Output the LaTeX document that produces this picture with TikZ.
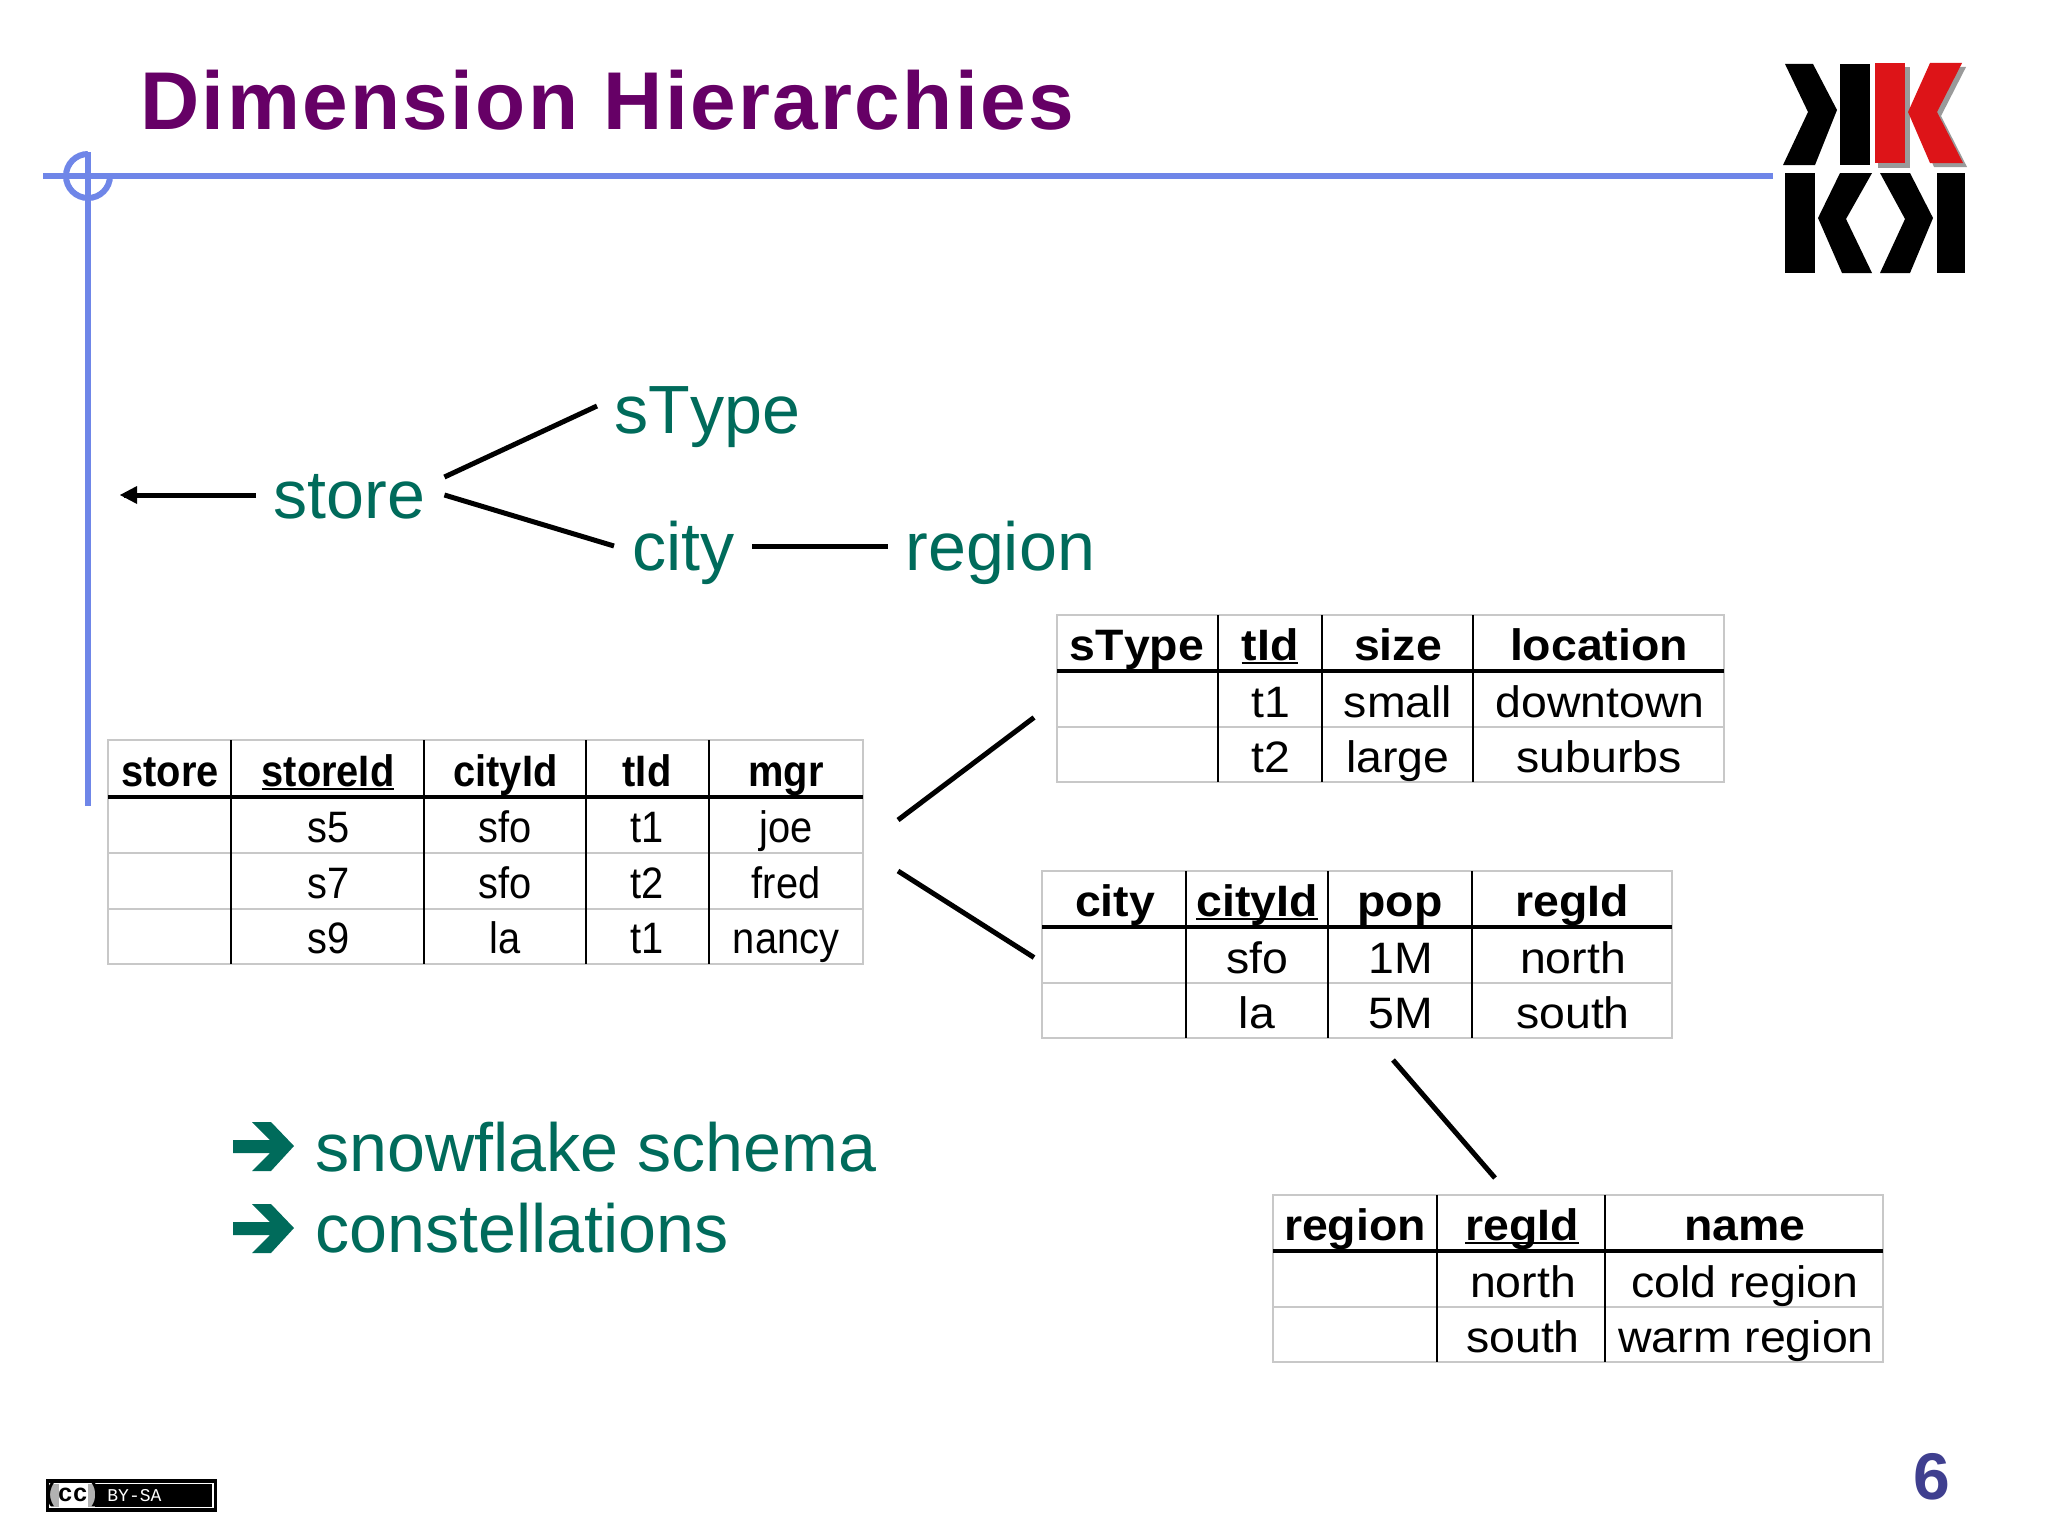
\documentclass[tikz,border=0pt]{standalone}
\usepackage{fontspec}
\usepackage{graphicx}
\setmainfont[Kerning=Off]{Liberation Sans}
\newfontfamily\titlefont[Kerning=Off,LetterSpace=2.9]{Liberation Sans}
\newfontfamily\ccmono{Liberation Mono}
\usetikzlibrary{calc,fit,arrows.meta}
\definecolor{teal1}{HTML}{006B5B}
\definecolor{purp}{HTML}{660066}
\definecolor{slideblue}{HTML}{6F86E8}
\definecolor{numblue}{HTML}{3F3F8F}
\definecolor{grid}{HTML}{C8C8C8}
\definecolor{logored}{HTML}{DD1418}
\definecolor{logoshadow}{HTML}{9A9A9A}
\newcommand\ulbf[1]{\setbox0\hbox{#1}\rlap{\rule[-0.1em]{\wd0}{0.055em}}\box0}
\newcommand\cellnarrow[1]{\scalebox{.905}[1]{#1}}
\newcommand\cellwide[1]{\scalebox{1.055}[1]{#1}}
\tikzset{
  big/.style={font=\fontsize{34.1}{40}\selectfont, text=teal1, inner sep=0pt, anchor=base west},
  cellbase/.style={font=\fontsize{22}{26}\selectfont, text=black, inner sep=0pt, anchor=base},
  headbase/.style={cellbase, font=\fontsize{22}{26}\selectfont\bfseries},
  tablebox/.style={draw=grid, line width=1pt, inner sep=0pt},
  rowline/.style={draw=grid, line width=1pt},
  colline/.style={draw=black, line width=1pt},
  headline/.style={draw=black, line width=1.7pt},
  link/.style={draw=black, line width=2.5pt},
  rule/.style={draw=slideblue, line width=3pt},
  tealarrow/.style={fill=teal1, draw=none},
}
\begin{document}
\begin{tikzpicture}[x=0.5pt,y=-0.5pt]
\path[use as bounding box, fill=white] (0,0) rectangle (2048,1536);

% slide frame
\draw[rule] (43,176) -- (1773,176);
\draw[rule] (88,152) -- (88,806);
\draw[rule] (88,154) arc[start angle=-90, end angle=-360, radius=22];

% title
\node[inner sep=0pt, anchor=base west, text=purp, font=\titlefont\fontsize{41}{50}\selectfont\bfseries] (title) at (140,129) {Dimension Hierarchies};

% logo
\fill[logoshadow] (1878,67) rectangle (1910,168);
\fill[logoshadow] (1934,67) -- (1966,67) -- (1941,116) -- (1967,167) -- (1934,167) -- (1912,116) -- cycle;
\fill[black] (1785,64) -- (1813,64) -- (1837,110) -- (1815,165) -- (1783,165) -- (1808,112) -- cycle;
\fill[black] (1840,64) rectangle (1870,165);
\fill[logored] (1875,63) rectangle (1905,163);
\fill[logored] (1930,63) -- (1962,63) -- (1937,112) -- (1963,163) -- (1930,163) -- (1908,112) -- cycle;
\fill[black] (1785,173) rectangle (1815,273);
\fill[black] (1840,173) -- (1872,173) -- (1846,219) -- (1872,273) -- (1842,273) -- (1818,218) -- cycle;
\fill[black] (1880,173) -- (1910,173) -- (1933,218) -- (1910,273) -- (1880,273) -- (1905,219) -- cycle;
\fill[black] (1937,173) rectangle (1965,273);

% hierarchy
\node[big] (store) at (273,518) {store};
\node[big] (sType) at (614,433) {sType};
\node[big] (city) at (632,570) {city};
\node[big] (region) at (905,570) {region};
\coordinate (leftEnd) at (124,495);
\draw[link] ($(store.base west)+(-17,-23)$) -- (leftEnd);
\fill[black] (120,495) -- (137,486) -- (137,504) -- cycle;
\draw[link] ($(store.base east)+(19,-41)$) -- ($(sType.base west)+(-17,-27)$);
\draw[link] ($(store.base east)+(19,-23)$) -- ($(city.base west)+(-18,-24)$);
\draw[link] ($(city.base east)+(17,-24)$) -- ($(region.base west)+(-17,-24)$);

% store table
\node[tablebox, fit={(108,740)(863,964)}] (storeT) {};
\draw[rowline] (108,853) -- (863,853) (108,909) -- (863,909);
\draw[colline] (231,740) -- (231,964) (424,740) -- (424,964) (586,740) -- (586,964) (709,740) -- (709,964);
\draw[headline] (108,797) -- (863,797);
\node[headbase] (s00) at (170,786) {\cellnarrow{store}};
\node[headbase] (s01) at (328,786) {\cellnarrow{\ulbf{storeId}}};
\node[headbase] (s02) at (505.5,786) {\cellnarrow{cityId}};
\node[headbase] (s03) at (647,786) {\cellnarrow{tId}};
\node[headbase] (s04) at (786,786) {\cellnarrow{mgr}};
\node[cellbase] (s11) at (329,842) {\cellnarrow{s5}};
\node[cellbase] (s12) at (505,842) {\cellnarrow{sfo}};
\node[cellbase] (s13) at (647,842) {\cellnarrow{t1}};
\node[cellbase] (s14) at (786,842) {\cellnarrow{joe}};
\node[cellbase] (s21) at (329,898) {\cellnarrow{s7}};
\node[cellbase] (s22) at (505,898) {\cellnarrow{sfo}};
\node[cellbase] (s23) at (647,898) {\cellnarrow{t2}};
\node[cellbase] (s24) at (786,898) {\cellnarrow{fred}};
\node[cellbase] (s31) at (329,953) {\cellnarrow{s9}};
\node[cellbase] (s32) at (505,953) {\cellnarrow{la}};
\node[cellbase] (s33) at (647,953) {\cellnarrow{t1}};
\node[cellbase] (s34) at (786,953) {\cellnarrow{nancy}};

% sType table
\node[tablebox, fit={(1057,615)(1724,782)}] (typeT) {};
\draw[rowline] (1057,727) -- (1724,727);
\draw[colline] (1218,615) -- (1218,782) (1322,615) -- (1322,782) (1473,615) -- (1473,782);
\draw[headline] (1057,671) -- (1724,671);
\node[headbase] (t00) at (1137,660) {\cellwide{sType}};
\node[headbase] (t01) at (1270,660) {\cellwide{\ulbf{tId}}};
\node[headbase] (t02) at (1398,660) {\cellwide{size}};
\node[headbase] (t03) at (1599,660) {\cellwide{location}};
\node[cellbase] (t11) at (1271,717) {\cellwide{t1}};
\node[cellbase] (t12) at (1398,717) {\cellwide{small}};
\node[cellbase] (t13) at (1600,717) {\cellwide{downtown}};
\node[cellbase] (t21) at (1271,772) {\cellwide{t2}};
\node[cellbase] (t22) at (1398,772) {\cellwide{large}};
\node[cellbase] (t23) at (1599,772) {\cellwide{suburbs}};

% city table
\node[tablebox, fit={(1042,871)(1672,1038)}] (cityT) {};
\draw[rowline] (1042,983) -- (1672,983);
\draw[colline] (1186,871) -- (1186,1038) (1328,871) -- (1328,1038) (1472,871) -- (1472,1038);
\draw[headline] (1042,927) -- (1672,927);
\node[headbase] (c00) at (1115,916) {\cellwide{city}};
\node[headbase] (c01) at (1257,916) {\cellwide{\ulbf{cityId}}};
\node[headbase] (c02) at (1400,916) {\cellwide{pop}};
\node[headbase] (c03) at (1572,916) {\cellwide{regId}};
\node[cellbase] (c11) at (1257,973) {\cellwide{sfo}};
\node[cellbase] (c12) at (1401,973) {\cellwide{1M}};
\node[cellbase] (c13) at (1573,973) {\cellwide{north}};
\node[cellbase] (c21) at (1257,1028) {\cellwide{la}};
\node[cellbase] (c22) at (1401,1028) {\cellwide{5M}};
\node[cellbase] (c23) at (1573,1028) {\cellwide{south}};

% region table
\node[tablebox, fit={(1273,1195)(1883,1362)}] (regionT) {};
\draw[rowline] (1273,1307) -- (1883,1307);
\draw[colline] (1437,1195) -- (1437,1362) (1605,1195) -- (1605,1362);
\draw[headline] (1273,1251) -- (1883,1251);
\node[headbase] (r00) at (1355,1240) {\cellwide{region}};
\node[headbase] (r01) at (1522,1240) {\cellwide{\ulbf{regId}}};
\node[headbase] (r02) at (1745,1240) {\cellwide{name}};
\node[cellbase] (r11) at (1523,1297) {\cellwide{north}};
\node[cellbase] (r12) at (1745,1297) {\cellwide{cold region}};
\node[cellbase] (r21) at (1523,1352) {\cellwide{south}};
\node[cellbase] (r22) at (1746,1352) {\cellwide{warm region}};

% table links
\draw[link] ($(storeT.east)+(34,-32)$) -- ($(typeT.west)+(-22,19)$);
\draw[link] ($(storeT.east)+(34,19)$) -- ($(cityT.west)+(-7,3)$);
\draw[link] ($(cityT.south)+(36,21)$) -- ($(regionT.north)+(-83,-16)$);

% bullets
\fill[tealarrow] (252,1122) -- (271,1122) -- (294,1146) -- (271,1171) -- (252,1171) -- (270,1153) -- (233,1153) -- (233,1140) -- (270,1140) -- cycle;
\fill[tealarrow] (252,1204) -- (271,1204) -- (294,1228) -- (271,1253) -- (252,1253) -- (270,1235) -- (233,1235) -- (233,1222) -- (270,1222) -- cycle;
\node[big] (snow) at (315,1171) {snowflake schema};
\node[big] (const) at (315,1252) {constellations};

% licence badge
\fill[black] (46,1479) rectangle (217,1512);
\fill[white] (49,1483) rectangle (214,1508);
\fill[black] (95,1484) rectangle (212,1507);
\fill[gray!60] (51,1484) rectangle (95,1507);
\fill[white] (59,1484) rectangle (88,1507);
\node[inner sep=0pt, font=\fontsize{12.5}{14}\ccmono\bfseries, text=black] (cc) at (73,1495) {(cc)};
\node[inner sep=0pt, anchor=west, font=\fontsize{9}{10}\ccmono, text=white] (bysa) at (107,1495.5) {BY-SA};

% slide number
\node[inner sep=0pt, anchor=base, text=numblue, font=\fontsize{33}{40}\selectfont\bfseries] (num) at (1932,1499) {6};
\end{tikzpicture}
\end{document}
